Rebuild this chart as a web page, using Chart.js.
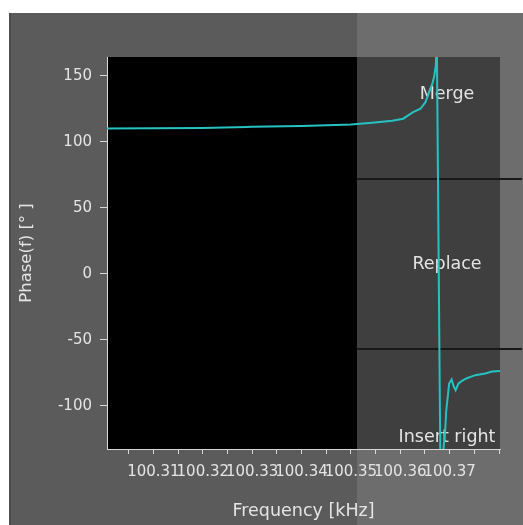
<!DOCTYPE html>
<html>
<head>
<meta charset="utf-8">
<script src="https://cdn.jsdelivr.net/npm/chart.js@4.4.1/dist/chart.umd.min.js"></script>
<style>
  html, body { margin: 0; padding: 0; background: #fff; }
  canvas { display: block; }
</style>
</head>
<body>
<canvas id="phaseChart" width="523" height="525"></canvas>
<script>
// phase response around the resonance
const freq = [
  100.3006, 100.3100, 100.3200, 100.3288, 100.3300, 100.3400, 100.3485, 100.3500,
  100.3543, 100.3584, 100.3606, 100.3616, 100.3626, 100.3641, 100.3651, 100.3657,
  100.3665, 100.3669, 100.3672, 100.3674, 100.3682, 100.3688, 100.3691, 100.3693,
  100.3697, 100.3699, 100.3704, 100.3708, 100.3712, 100.3718, 100.3725, 100.3735,
  100.3752, 100.3772, 100.3786, 100.3802
];
const phase = [
  110.0, 110.2, 110.4, 111.2, 111.4, 112.0, 112.9, 113.1,
  114.5, 116.0, 117.5, 120.0, 122.5, 125.0, 130.0, 136.0,
  144.0, 150.0, 158.0, 178.0, -178.0, -130.0, -119.0, -104.0,
  -90.0, -83.0, -80.0, -85.0, -88.0, -83.0, -81.0, -79.0,
  -76.7, -75.5, -74.0, -73.5
];

const xTicks = [
  100.305, 100.31, 100.315, 100.32, 100.325, 100.33, 100.335, 100.34,
  100.345, 100.35, 100.355, 100.36, 100.365, 100.37, 100.375, 100.38
];
const xTickLabels = [
  '', '100.31', '', '100.32', '', '100.33', '', '100.34',
  '', '100.35', '', '100.36', '', '100.37', '', ''
];
const yTicks = [-100, -50, 0, 50, 100, 150];
const zoneLabels = ['Merge', 'Replace', 'Insert right'];

const textColor = '#e4e4e4';
const axisColor = '#d8d8d8';
const tickFont = { family: 'DejaVu Sans', size: 15 };

// window background, drop-zone strip and its three panels
const backdrop = {
  id: 'backdrop',
  beforeDraw(chart) {
    const { ctx, chartArea: a, width, height } = chart;
    const zoneX = 357;
    ctx.save();
    ctx.fillStyle = '#ffffff';
    ctx.fillRect(0, 0, width, height);
    ctx.fillStyle = '#5b5b5b';
    ctx.fillRect(9, 13, width - 9, height - 13);
    ctx.fillStyle = '#4c4c4c';
    ctx.fillRect(9, 13, 2, height - 13);
    ctx.fillStyle = '#6d6d6d';
    ctx.fillRect(zoneX, 13, width - zoneX, height - 13);
    ctx.fillStyle = '#000000';
    ctx.fillRect(a.left, a.top, a.right - a.left, a.bottom - a.top);

    const rows = [[a.top, 178], [180, 348], [350, a.bottom]];
    ctx.fillStyle = '#3f3f3f';
    rows.forEach(r => ctx.fillRect(zoneX, r[0], a.right - zoneX, r[1] - r[0]));
    ctx.fillStyle = '#181818';
    ctx.fillRect(zoneX, 178, width - zoneX - 1, 2);
    ctx.fillRect(zoneX, 348, width - zoneX - 1, 2);

    ctx.fillStyle = textColor;
    ctx.font = '17.5px "DejaVu Sans"';
    ctx.textAlign = 'center';
    ctx.textBaseline = 'middle';
    const cx = 447;
    ctx.fillText(zoneLabels[0], cx, 94);
    ctx.fillText(zoneLabels[1], cx, 264);
    ctx.fillText(zoneLabels[2], cx, 437);
    ctx.restore();
  }
};

new Chart(document.getElementById('phaseChart'), {
  type: 'line',
  data: {
    datasets: [{
      data: freq.map((f, i) => ({ x: f, y: phase[i] })),
      borderColor: 'rgb(38, 194, 194)',
      borderWidth: 2,
      pointRadius: 0,
      tension: 0
    }]
  },
  options: {
    responsive: false,
    animation: false,
    layout: { padding: { left: 9, top: 57, right: 23, bottom: 0 } },
    plugins: { legend: { display: false }, tooltip: { enabled: false } },
    scales: {
      x: {
        type: 'linear',
        min: 100.3006,
        max: 100.3802,
        afterBuildTicks: s => { s.ticks = xTicks.map(v => ({ value: v })); },
        afterFit: s => { s.height = 76; },
        border: { color: axisColor },
        grid: { drawOnChartArea: false, tickLength: 5, color: axisColor },
        ticks: {
          autoSkip: false, maxRotation: 0, minRotation: 0, padding: 9,
          color: textColor, font: tickFont,
          callback: (v, i) => xTickLabels[i]
        },
        title: {
          display: true, text: 'Frequency [kHz]', color: textColor,
          font: { family: 'DejaVu Sans', size: 17.5 },
          padding: { top: 0, bottom: 3 }
        }
      },
      y: {
        min: -132.6,
        max: 164.2,
        afterBuildTicks: s => { s.ticks = yTicks.map(v => ({ value: v })); },
        afterFit: s => { s.width = 98; },
        border: { color: axisColor },
        grid: { drawOnChartArea: false, tickLength: 7, color: axisColor },
        ticks: { padding: 8, color: textColor, font: tickFont },
        title: {
          display: true, text: 'Phase(f) [° ]', color: textColor,
          font: { family: 'DejaVu Sans', size: 16.5 },
          padding: { top: 8, bottom: 0 }
        }
      }
    }
  },
  plugins: [backdrop]
});
</script>
</body>
</html>
